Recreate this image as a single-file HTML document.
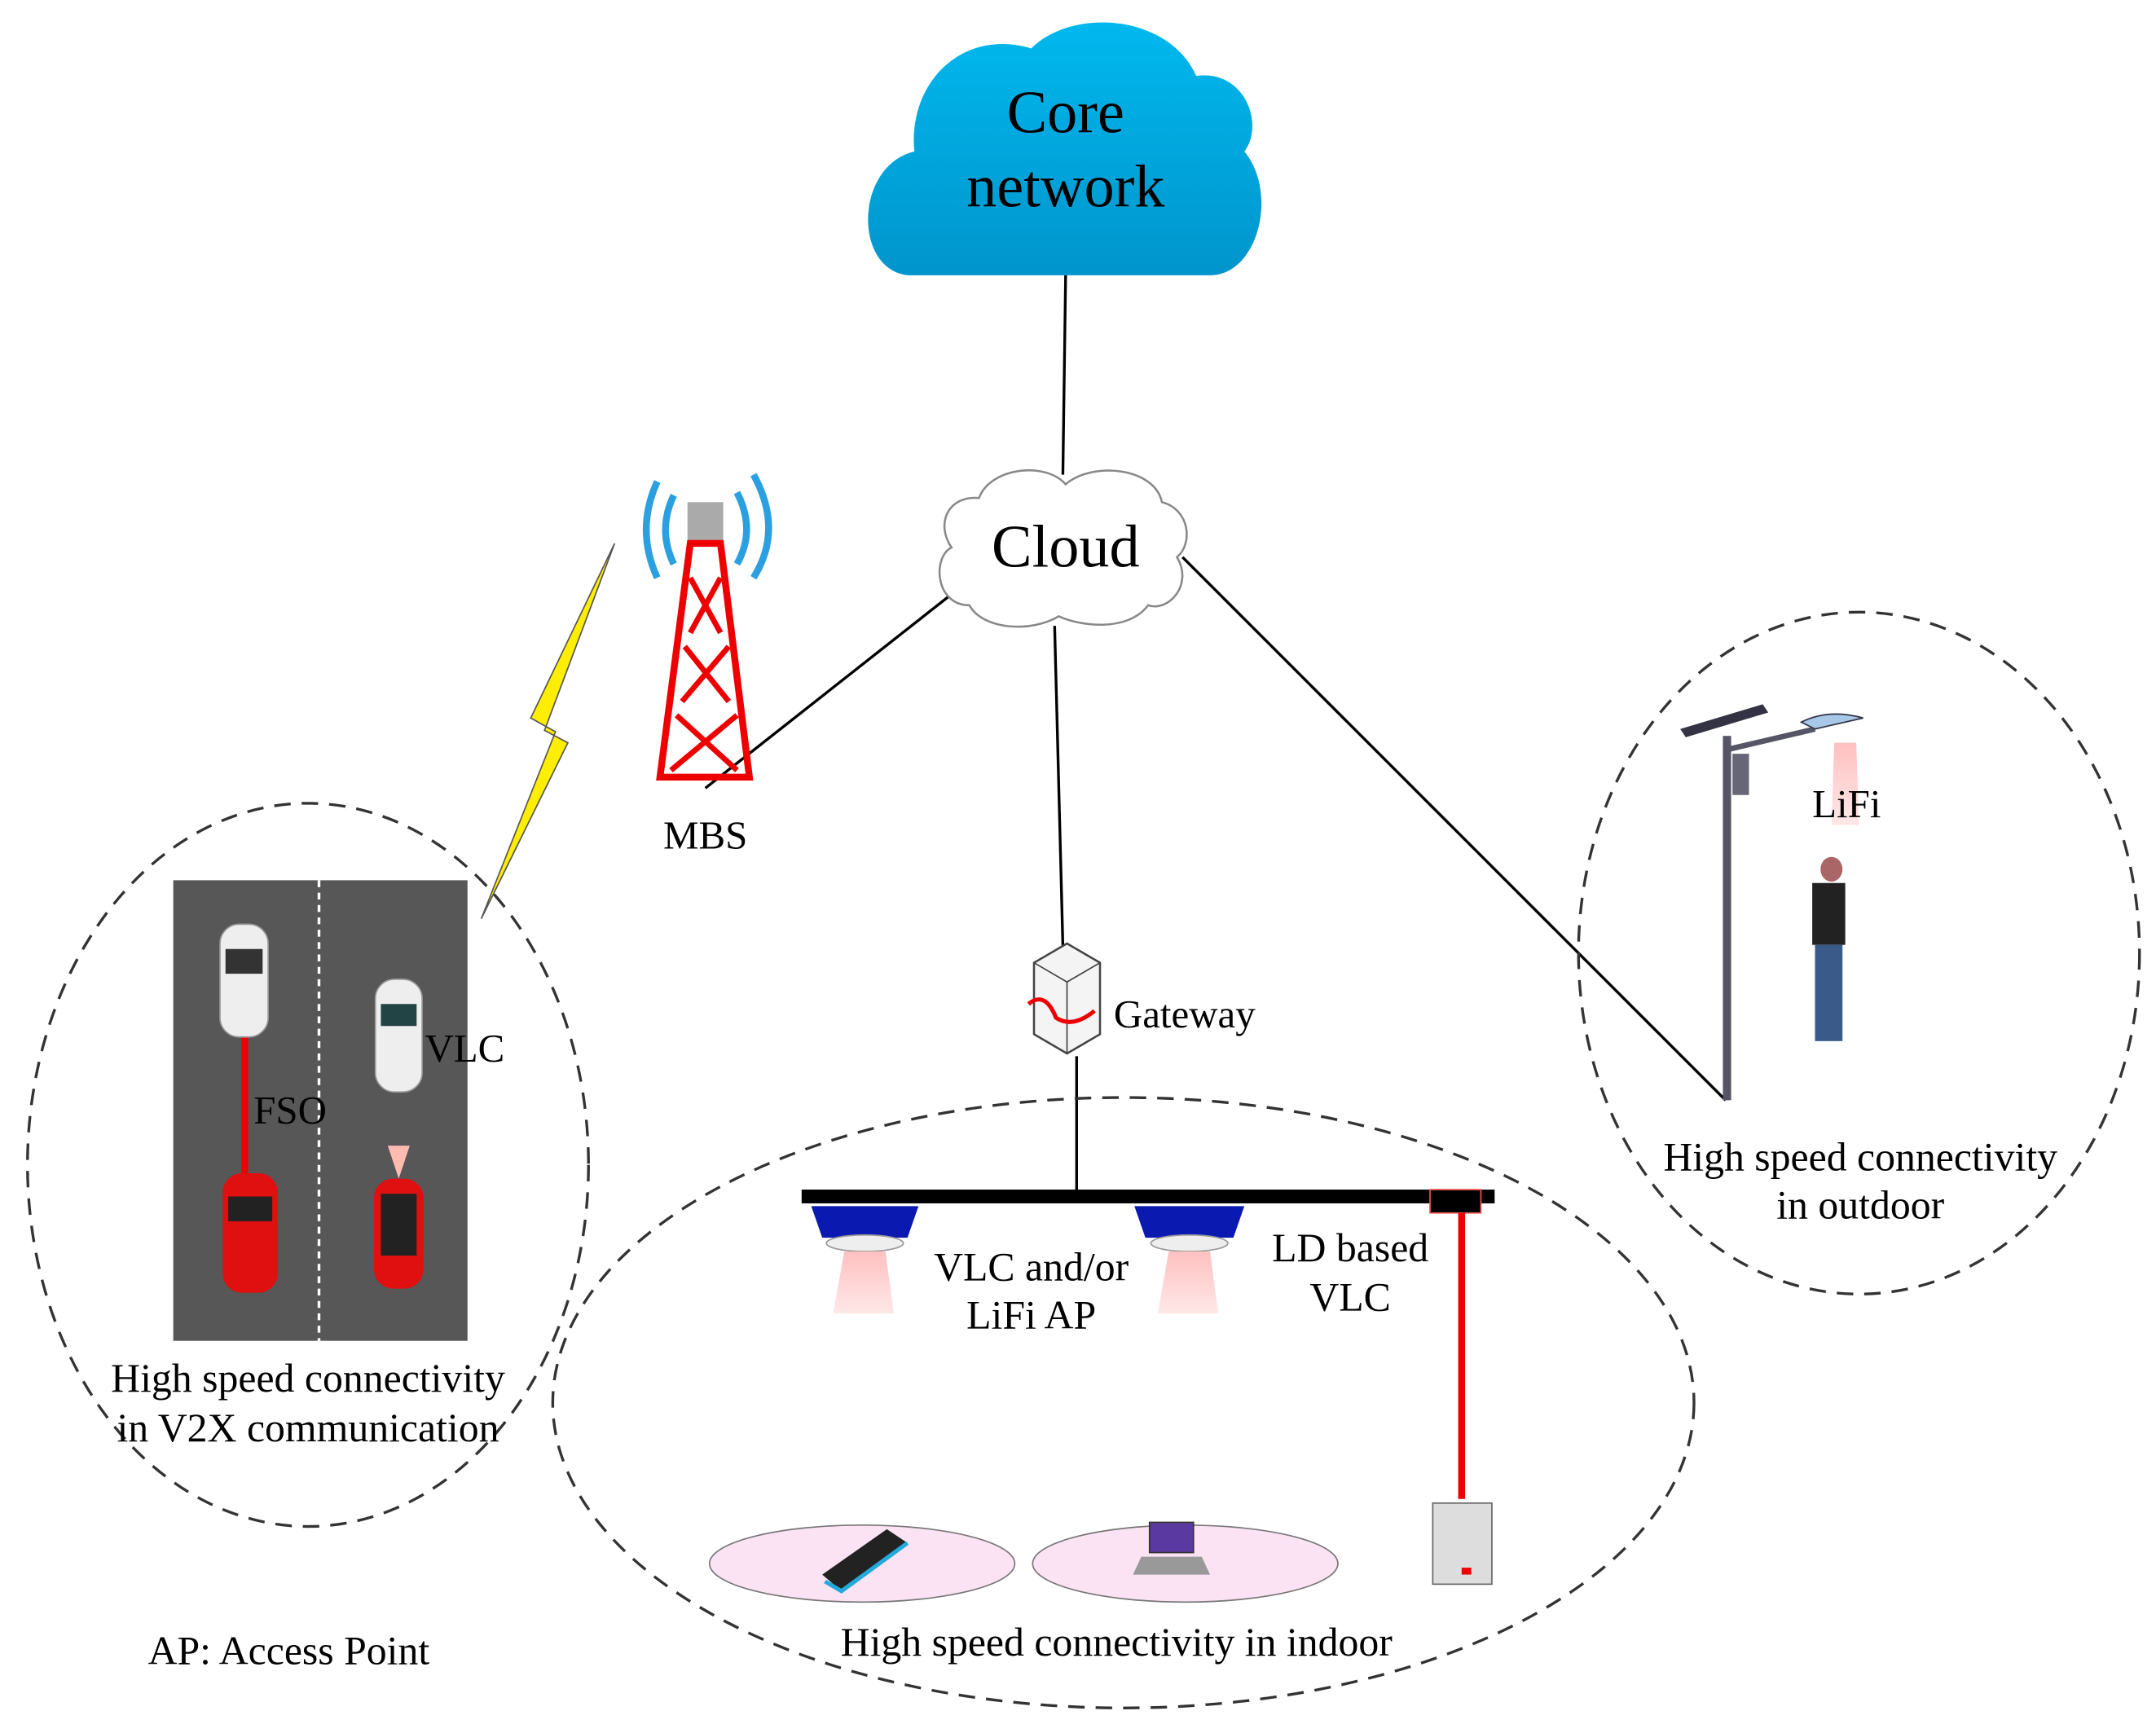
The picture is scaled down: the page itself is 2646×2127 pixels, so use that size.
<!DOCTYPE html>
<html><head><meta charset="utf-8"><style>
html,body{margin:0;padding:0;background:#fff}
svg{display:block}
text{font-family:"Liberation Serif",serif;fill:#000}
</style></head><body>
<svg width="2646" height="2127" viewBox="0 0 1568 1260" xmlns="http://www.w3.org/2000/svg">
<defs>
<linearGradient id="cg" x1="0" y1="0" x2="0" y2="1"><stop offset="0" stop-color="#00b8ee"/><stop offset="1" stop-color="#0095cc"/></linearGradient>
<linearGradient id="pk" x1="0" y1="0" x2="0" y2="1"><stop offset="0" stop-color="#ffc0c0"/><stop offset="1" stop-color="#ffe8e8"/></linearGradient>
</defs>
<g stroke="#000" stroke-width="2" fill="none">
<line x1="775" y1="200" x2="773" y2="345"/>
<line x1="692" y1="432" x2="513" y2="573"/>
<line x1="767" y1="455" x2="773" y2="688"/>
<line x1="860" y1="405" x2="1255" y2="800"/>
<line x1="783" y1="768" x2="783" y2="865"/>
</g>
<path d="M660,200 C620,195 622,120 665,110 C660,60 700,20 750,35 C780,5 850,10 870,55 C905,50 920,90 905,110 C930,140 915,200 880,200 Z" fill="url(#cg)"/>
<text x="775" y="96" font-size="44" text-anchor="middle">Core</text>
<text x="775" y="150" font-size="44" text-anchor="middle">network</text>
<path d="M705,440 C680,440 678,405 692,398 C680,380 690,360 712,362 C720,340 760,335 775,352 C795,335 840,340 845,365 C865,370 868,395 856,405 C868,425 850,445 835,440 C820,460 785,455 770,448 C750,460 715,458 705,440 Z" fill="#fff" stroke="#888" stroke-width="1.5"/>
<text x="775" y="412" font-size="44" text-anchor="middle">Cloud</text>
<g fill="none" stroke="#333" stroke-width="2" stroke-dasharray="12,8">
<ellipse cx="224" cy="847" rx="204" ry="263"/>
<ellipse cx="817" cy="1020" rx="415" ry="222"/>
<ellipse cx="1352" cy="693" rx="204" ry="248"/>
</g>
<rect x="126" y="640" width="214" height="335" fill="#575757"/>
<line x1="232" y1="640" x2="232" y2="1010" stroke="#fff" stroke-width="2" stroke-dasharray="5,4"/>
<line x1="178" y1="752" x2="178" y2="855" stroke="#e00" stroke-width="5"/>
<rect x="160" y="672" width="35" height="82" rx="14" fill="#eee" stroke="#999"/>
<rect x="164" y="690" width="27" height="18" fill="#333"/>
<rect x="273" y="712" width="34" height="82" rx="14" fill="#eee" stroke="#999"/>
<rect x="277" y="730" width="26" height="16" fill="#244"/>
<rect x="162" y="853" width="40" height="87" rx="14" fill="#e01010"/>
<rect x="166" y="870" width="32" height="18" fill="#222"/>
<path d="M282,833 L298,833 L290,857 Z" fill="#ffbbb0"/>
<rect x="272" y="857" width="36" height="80" rx="14" fill="#e01010"/>
<rect x="277" y="868" width="26" height="45" fill="#222"/>
<path d="M447,395 L386,522 L404,532 L350,668 L413,540 L396,531 Z" fill="#ffee00" stroke="#555" stroke-width="1"/>
<g fill="none" stroke-width="5">
<path d="M478,350 Q462,385 478,420" stroke="#2aa0e0"/><path d="M490,360 Q478,385 490,410" stroke="#2aa0e0"/>
<path d="M548,345 Q570,385 548,420" stroke="#2aa0e0"/><path d="M536,358 Q550,385 536,410" stroke="#2aa0e0"/>
</g>
<rect x="500" y="365" width="26" height="30" fill="#aaa"/>
<path d="M502,395 L524,395 L545,565 L480,565 Z" fill="none" stroke="#e00" stroke-width="5"/>
<path d="M502,420 L524,460 M524,420 L502,460 M498,470 L530,510 M530,470 L496,510 M492,520 L536,560 M536,520 L488,560" stroke="#e00" stroke-width="4"/>
<text x="513" y="617" font-size="29" text-anchor="middle">MBS</text>
<path d="M752,700 L776,686 L800,700 L800,752 L776,766 L752,752 Z" fill="#f4f4f4" stroke="#444" stroke-width="1.5"/>
<path d="M752,700 L776,714 L800,700 M776,714 L776,766" stroke="#444" fill="none"/>
<path d="M748,730 Q760,720 768,740 Q780,748 796,735" stroke="#e00" stroke-width="3" fill="none"/>
<text x="810" y="747" font-size="29">Gateway</text>
<rect x="583" y="865" width="504" height="10" fill="#000"/>
<path d="M590,877 L668,877 L660,900 L598,900 Z" fill="#0a1ab0"/>
<path d="M825,877 L905,877 L897,900 L833,900 Z" fill="#0a1ab0"/>
<ellipse cx="629" cy="904" rx="28" ry="6" fill="#eee" stroke="#999"/>
<ellipse cx="865" cy="904" rx="28" ry="6" fill="#eee" stroke="#999"/>
<path d="M614,910 L644,910 L650,955 L606,955 Z" fill="url(#pk)"/>
<path d="M850,910 L880,910 L886,955 L842,955 Z" fill="url(#pk)"/>
<rect x="1040" y="865" width="37" height="17" fill="#000" stroke="#e55" stroke-width="1"/>
<line x1="1063" y1="882" x2="1063" y2="1090" stroke="#e00" stroke-width="5"/>
<rect x="1042" y="1093" width="43" height="59" fill="#ddd" stroke="#666"/>
<rect x="1063" y="1140" width="7" height="5" fill="#e00"/>
<ellipse cx="627" cy="1137" rx="111" ry="28" fill="#fbe3f3" stroke="#777" stroke-width="1"/>
<ellipse cx="862" cy="1137" rx="111" ry="28" fill="#fbe3f3" stroke="#777" stroke-width="1"/>
<path d="M598,1145 L645,1112 L660,1122 L612,1157 Z" fill="#222"/>
<path d="M600,1150 L612,1157 L660,1122" stroke="#2ad" stroke-width="3" fill="none"/>
<rect x="836" y="1107" width="32" height="22" fill="#5a3aa0" stroke="#333"/>
<path d="M830,1132 L874,1132 L880,1145 L824,1145 Z" fill="#999"/>
<text x="750" y="931" font-size="29.5" text-anchor="middle">VLC and/or</text>
<text x="750" y="966" font-size="29.5" text-anchor="middle">LiFi AP</text>
<text x="982" y="917" font-size="29.5" text-anchor="middle">LD based</text>
<text x="982" y="953" font-size="29.5" text-anchor="middle">VLC</text>
<text x="812" y="1204" font-size="29.5" text-anchor="middle">High speed connectivity in indoor</text>
<rect x="1253" y="535" width="6" height="265" fill="#556"/>
<path d="M1256,545 L1320,530" stroke="#556" stroke-width="4"/>
<path d="M1222,530 L1282,512 L1286,518 L1226,536 Z" fill="#334"/>
<path d="M1310,525 Q1330,515 1355,522 L1320,530 Z" fill="#a8c8e8" stroke="#334"/>
<rect x="1260" y="548" width="12" height="30" fill="#667"/>
<path d="M1334,540 L1350,540 L1352,600 L1332,600 Z" fill="url(#pk)"/>
<ellipse cx="1332" cy="632" rx="8" ry="9" fill="#a66"/>
<rect x="1318" y="642" width="24" height="45" fill="#222"/>
<rect x="1320" y="687" width="20" height="70" fill="#3a5a8a"/>
<text x="1343" y="594" font-size="29" text-anchor="middle">LiFi</text>
<text x="1353" y="851" font-size="29.5" text-anchor="middle">High speed connectivity</text>
<text x="1353" y="886" font-size="29.5" text-anchor="middle">in outdoor</text>
<text x="338" y="772" font-size="29" text-anchor="middle">VLC</text>
<text x="211" y="817" font-size="29" text-anchor="middle">FSO</text>
<text x="224" y="1012" font-size="29.5" text-anchor="middle">High speed connectivity</text>
<text x="224" y="1048" font-size="29.5" text-anchor="middle">in V2X communication</text>
<text x="210" y="1210" font-size="29.5" text-anchor="middle">AP: Access Point</text>
</svg>
</body></html>
